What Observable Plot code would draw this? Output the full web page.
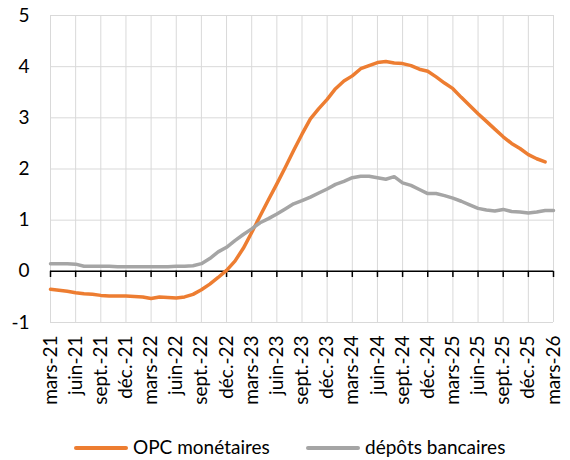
<!DOCTYPE html>
<html><head><meta charset="utf-8">
<script src="https://cdn.jsdelivr.net/npm/d3@7"></script>
<script src="https://cdn.jsdelivr.net/npm/@observablehq/plot@0.6"></script>
<style>
body{margin:0;background:#fff;font-family:Lato,"Noto Sans",sans-serif;}
#wrap{position:relative;width:570px;height:460px}
#chart{position:absolute;left:0;top:0}
.lg{position:absolute;top:435px;height:24px;line-height:24px;font-size:19px;color:#000;white-space:nowrap}
.lg span.sw{display:inline-block;width:54px;height:4px;vertical-align:middle;margin-right:5px;border-radius:2px;position:relative;top:-1px}
</style></head><body>
<div id="wrap"><div id="chart"></div></div>
<script>
const quarterLabels = ["mars-21","juin-21","sept.-21","déc.-21","mars-22","juin-22","sept.-22","déc.-22","mars-23","juin-23","sept.-23","déc.-23","mars-24","juin-24","sept.-24","déc.-24","mars-25","juin-25","sept.-25","déc.-25","mars-26"];
const seriesNames = ["OPC monétaires","dépôts bancaires"];
const seriesColors = ["#ED7D31","#A5A5A5"];
// monthly values, starting mars-21
const opc = [-0.35,-0.37,-0.39,-0.42,-0.44,-0.45,-0.47,-0.48,-0.48,-0.48,-0.49,-0.50,-0.53,-0.50,-0.51,-0.52,-0.50,-0.45,-0.36,-0.25,-0.12,0.02,0.20,0.45,0.76,1.08,1.40,1.71,2.03,2.36,2.68,2.98,3.18,3.36,3.57,3.72,3.82,3.96,4.02,4.08,4.10,4.07,4.06,4.02,3.95,3.91,3.80,3.68,3.57,3.40,3.24,3.08,2.93,2.78,2.63,2.50,2.40,2.28,2.20,2.14];
const depots = [0.15,0.15,0.15,0.14,0.10,0.10,0.10,0.10,0.09,0.09,0.09,0.09,0.09,0.09,0.09,0.10,0.10,0.11,0.15,0.25,0.38,0.47,0.60,0.72,0.83,0.95,1.03,1.12,1.22,1.32,1.38,1.45,1.53,1.61,1.70,1.76,1.83,1.86,1.86,1.83,1.80,1.85,1.73,1.68,1.60,1.52,1.52,1.48,1.43,1.37,1.30,1.23,1.20,1.18,1.21,1.17,1.16,1.14,1.16,1.19,1.19];
const yTicks = [-1,0,1,2,3,4,5];

const rows = [];
opc.forEach((v,i)=>rows.push({i, v, s:seriesNames[0]}));
depots.forEach((v,i)=>rows.push({i, v, s:seriesNames[1]}));
const qIdx = quarterLabels.map((_,k)=>k*3);

const chart = Plot.plot({
  width:570, height:420,
  marginLeft:50, marginRight:17, marginTop:15, marginBottom:98,
  style:{fontFamily:"Lato, 'Noto Sans', sans-serif", fontSize:"19px", color:"#000", background:"#fff"},
  x:{domain:[0,60], axis:null},
  y:{domain:[-1,5], axis:null},
  color:{domain:seriesNames, range:seriesColors},
  marks:[
    Plot.ruleX(qIdx, {y1:-1, y2:5, stroke:"#d9d9d9", strokeWidth:1}),
    Plot.ruleY(yTicks, {stroke:"#d9d9d9", strokeWidth:1}),
    Plot.ruleY([0], {stroke:"#000", strokeWidth:1.5}),
    Plot.ruleX(qIdx, {y1:0, y2:-0.12, stroke:"#000", strokeWidth:1.5}),
    Plot.line(rows, {x:"i", y:"v", stroke:"s", z:"s", strokeWidth:3.5, strokeLinejoin:"round", strokeLinecap:"round"}),
    Plot.axisY(yTicks, {label:null, tickSize:0, tickPadding:21, fontSize:19, tickFormat:d=>d<0?"-"+Math.abs(d):String(d)}),
    Plot.axisX(qIdx, {label:null, anchor:"bottom", tickSize:0, tickPadding:13, tickRotate:-90, fontSize:19, tickFormat:(d)=>quarterLabels[d/3]})
  ]
});
document.getElementById("chart").appendChild(chart);
const wrap = document.getElementById("wrap");
const lgLeft = [74, 306];
seriesNames.forEach((n,k)=>{
  const d=document.createElement("div");
  d.className="lg";
  d.style.left=lgLeft[k]+"px";
  d.innerHTML=`<span class="sw" style="background:${seriesColors[k]}"></span>${n}`;
  wrap.appendChild(d);
});
</script>
</body></html>
